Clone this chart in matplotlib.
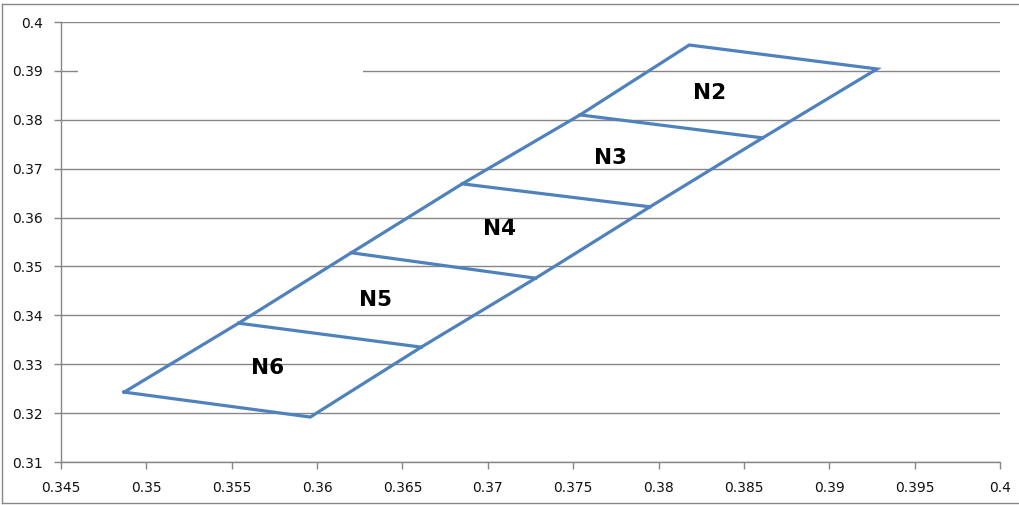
#!/usr/bin/env python3
"""Parallelogram strip split into zones N2..N6 (Excel-style scatter)."""

import matplotlib
matplotlib.use('Agg')
import matplotlib.pyplot as plt
from matplotlib.patches import Rectangle

# left edge of the strip, bottom to top
left_x = [0.3487, 0.3554, 0.3620, 0.3685, 0.3754, 0.3818]
left_y = [0.3243, 0.3384, 0.3528, 0.3669, 0.3810, 0.3953]
# right edge of the strip, bottom to top
right_x = [0.3596, 0.3661, 0.3728, 0.3795, 0.3861, 0.3928]
right_y = [0.3192, 0.3335, 0.3476, 0.3622, 0.3763, 0.3904]

zone_names = ['N6', 'N5', 'N4', 'N3', 'N2']
zone_x = [0.3571, 0.3634, 0.3707, 0.3772, 0.3830]
zone_y = [0.3292, 0.3431, 0.3577, 0.3722, 0.3855]

x_ticks = [0.345, 0.35, 0.355, 0.36, 0.365, 0.37, 0.375, 0.38, 0.385, 0.39, 0.395, 0.4]
y_ticks = [0.31, 0.32, 0.33, 0.34, 0.35, 0.36, 0.37, 0.38, 0.39, 0.4]

LINE = '#4F81BD'
GRID = '#868686'


def tick_text(v):
    return f'{v:.3f}'.rstrip('0').rstrip('.')


def main():
    fig = plt.figure(figsize=(10.19, 5.05), dpi=100)
    ax = fig.add_axes([0.0599, 0.0851, 0.9214, 0.8713])

    # outline: up the left edge, across the top, down the right edge, back
    out_x = left_x + right_x[::-1] + [left_x[0]]
    out_y = left_y + right_y[::-1] + [left_y[0]]
    ax.plot(out_x, out_y, color=LINE, linewidth=2.3, zorder=3,
            solid_joinstyle='miter')
    # inner dividers
    for i in range(1, len(left_x) - 1):
        ax.plot([left_x[i], right_x[i]], [left_y[i], right_y[i]],
                color=LINE, linewidth=2.3, zorder=3)

    for name, x, y in zip(zone_names, zone_x, zone_y):
        ax.text(x, y, name, fontsize=15.5, fontweight='bold',
                ha='center', va='center', color='black', zorder=4)

    ax.set_xlim(0.345, 0.4)
    ax.set_ylim(0.31, 0.4)
    ax.set_xticks(x_ticks)
    ax.set_yticks(y_ticks)
    ax.set_xticklabels([tick_text(v) for v in x_ticks])
    ax.set_yticklabels([tick_text(v) for v in y_ticks])
    ax.tick_params(axis='both', labelsize=10, colors=GRID, labelcolor='#111111',
                   length=5, width=1, direction='out')
    ax.tick_params(axis='y', pad=8)
    ax.tick_params(axis='x', pad=9)

    ax.grid(axis='y', color=GRID, linewidth=1, zorder=0)
    ax.set_axisbelow(True)
    for side in ('top', 'right'):
        ax.spines[side].set_visible(False)
    for side in ('left', 'bottom'):
        ax.spines[side].set_color(GRID)
        ax.spines[side].set_linewidth(1)

    # empty white box that hides part of the 0.39 gridline
    ax.add_patch(Rectangle((0.018, 0.87), 0.304, 0.04, transform=ax.transAxes,
                           facecolor='white', edgecolor='none', zorder=1))

    # chart area border (left, top, bottom)
    fig.add_artist(plt.Line2D([0.002, 0.002], [0.004, 0.992], color=GRID,
                              linewidth=1, transform=fig.transFigure))
    fig.add_artist(plt.Line2D([0.002, 1.0], [0.992, 0.992], color=GRID,
                              linewidth=1, transform=fig.transFigure))
    fig.add_artist(plt.Line2D([0.002, 1.0], [0.004, 0.004], color=GRID,
                              linewidth=1, transform=fig.transFigure))

    fig.savefig('out.png', dpi=100, facecolor='white')
    plt.close(fig)


if __name__ == '__main__':
    main()
